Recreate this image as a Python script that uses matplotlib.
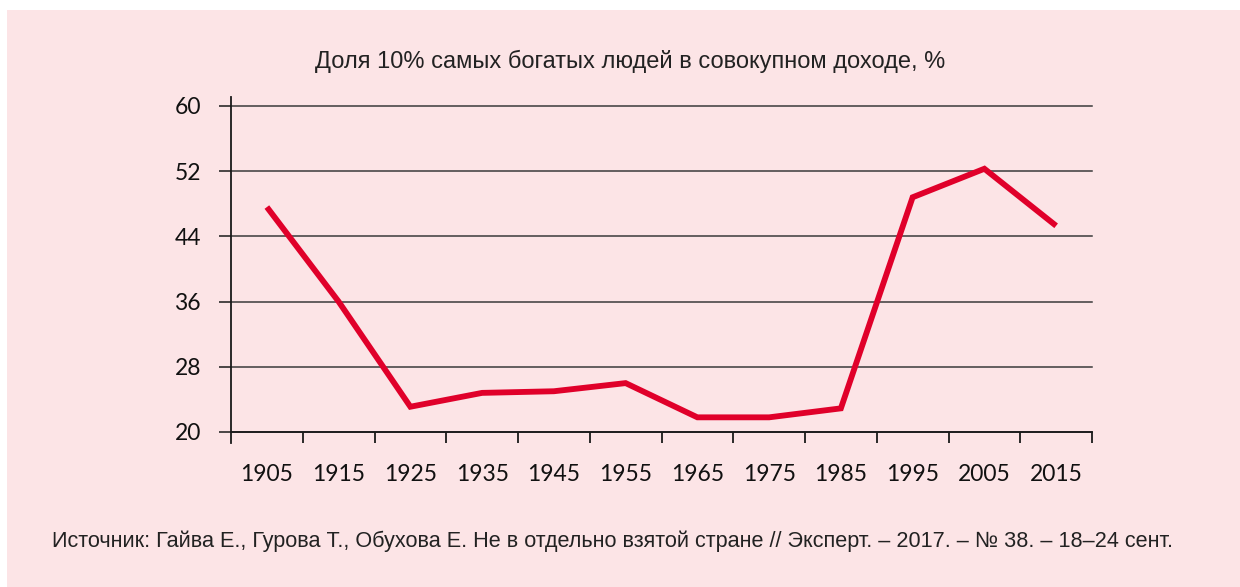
import matplotlib
matplotlib.use("Agg")
import matplotlib.pyplot as plt
from matplotlib.patches import Rectangle
from matplotlib.ticker import FixedLocator

years = ["1905", "1915", "1925", "1935", "1945", "1955",
         "1965", "1975", "1985", "1995", "2005", "2015"]
share = [47.6, 36.0, 23.1, 24.8, 25.0, 26.0, 21.8, 21.8, 22.9, 48.8, 52.3, 45.3]
yticks = [20, 28, 36, 44, 52, 60]

title = "Доля 10% самых богатых людей в совокупном доходе, %"
source = ("Источник: Гайва Е., Гурова Т., Обухова Е. Не в отдельно взятой стране "
          "// Эксперт. – 2017. – № 38. – 18–24 сент.")

BG = "#fce4e6"
RED = "#e0002a"
TXT = "#222222"
TICKTXT = "#111111"

W, H = 1240, 587
fig = plt.figure(figsize=(W / 100, H / 100), dpi=100)
fig.patch.set_facecolor("white")
bg = Rectangle((7 / W, 0), 1 - 7 / W, 1 - 10 / H,
               transform=fig.transFigure, facecolor=BG,
               edgecolor="none", zorder=-10)
fig.add_artist(bg)

left, right = 231 / W, 1092 / W
top, bottom = 1 - 106 / H, 1 - 432 / H
ax = fig.add_axes([left, bottom, right - left, top - bottom])
ax.set_facecolor("none")
ax.set_zorder(1)

x = list(range(len(years)))
ax.plot(x, share, color=RED, lw=4.2, solid_joinstyle="miter",
        solid_capstyle="butt", zorder=5, clip_on=False)

ax.set_xlim(-0.5, len(years) - 0.5)
ax.set_ylim(20, 60)

# gridlines
for v in yticks:
    ax.axhline(v, color="#3a3a3a", lw=1.1, zorder=1, clip_on=False)

for s in ["top", "right", "left"]:
    ax.spines[s].set_visible(False)
ax.spines["bottom"].set_color("#1a1a1a")
ax.spines["bottom"].set_linewidth(1.3)
ax.axvline(-0.5, ymin=-11 / 326, ymax=1 + 9 / 326, color="#1a1a1a",
           lw=1.3, clip_on=False, zorder=3)

ax.set_yticks(yticks)
ax.set_yticklabels([str(v) for v in yticks])
ax.tick_params(axis="y", length=8.5, width=1.1, color="#1a1a1a", pad=13,
               labelsize=16.5, labelcolor=TICKTXT)
ax.set_xticks(x)
ax.set_xticklabels(years)
ax.xaxis.set_minor_locator(FixedLocator([i + 0.5 for i in range(len(years))]))
ax.tick_params(axis="x", which="major", length=0, pad=23, labelsize=16.5,
               labelcolor=TICKTXT)
ax.tick_params(axis="x", which="minor", length=8, width=1.3, color="#1a1a1a")
for lab in ax.get_xticklabels() + ax.get_yticklabels():
    lab.set_fontfamily("Lato")

fig.text(630 / W, 1 - 61 / H, title, ha="center", va="center",
         fontsize=17, color=TXT, family="Liberation Sans")
fig.text(613 / W, 1 - 541 / H, source, ha="center", va="center",
         fontsize=15.6, color=TXT, family="Liberation Sans")

fig.savefig("out.png", dpi=100, facecolor=fig.get_facecolor())
